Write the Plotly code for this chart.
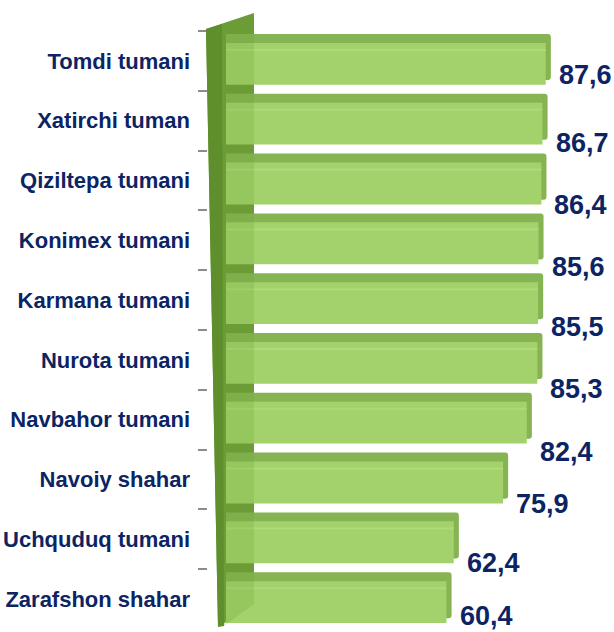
import plotly.graph_objects as go

W, H = 614, 632

categories = ["Tomdi tumani", "Xatirchi tuman", "Qiziltepa tumani", "Konimex tumani",
              "Karmana tumani", "Nurota tumani", "Navbahor tumani", "Navoiy shahar",
              "Uchquduq tumani", "Zarafshon shahar"]
values = [87.6, 86.7, 86.4, 85.6, 85.5, 85.3, 82.4, 75.9, 62.4, 60.4]
value_labels = ["87,6", "86,7", "86,4", "85,6", "85,5", "85,3", "82,4", "75,9", "62,4", "60,4"]

# vertical pixel offsets of the value labels (3D perspective placement)
label_yshift = [-14, -22, -24, -27, -27, -29, -32, -24, -24, -17]

DEPTH = 1.4  # 3D depth of bars in axis units
NAVY = "#0c2463"
FONT = "Liberation Sans, Arial, sans-serif"

def px(x):
    return x / W

def py(y):
    return 1 - y / H

fig = go.Figure()

# back/top face (darker, slightly longer)
fig.add_trace(go.Bar(
    x=[v + DEPTH for v in values], y=categories, orientation="h",
    width=0.77, offset=-0.45,
    marker=dict(color="#86b452", line=dict(width=0), cornerradius=3),
    hoverinfo="skip", showlegend=False,
))
# front face
fig.add_trace(go.Bar(
    x=values, y=categories, orientation="h",
    width=0.70, offset=-0.30,
    marker=dict(color="#a3d26c", line=dict(width=0)),
    showlegend=False,
))
# subtle highlight along the upper part of the front face
fig.add_trace(go.Bar(
    x=values, y=categories, orientation="h",
    width=0.035, offset=-0.20,
    marker=dict(color="rgba(185,225,135,0.5)", line=dict(width=0)),
    hoverinfo="skip", showlegend=False,
))

annotations = []
for c, v, t, ys in zip(categories, values, value_labels, label_yshift):
    annotations.append(dict(
        x=v + DEPTH, y=c, xref="x", yref="y", text=t, showarrow=False,
        xanchor="left", yanchor="middle", xshift=6, yshift=ys,
        font=dict(family=FONT, size=27, color=NAVY, weight="bold"),
    ))

def path(points):
    return "M " + " L ".join(f"{px(a):.5f},{py(b):.5f}" for a, b in points) + " Z"

shapes = [
    # wall back (visible in the gaps between bars)
    dict(type="path", xref="paper", yref="paper", layer="below",
         path=path([(206, 29), (254, 13), (254, 604), (218, 627)]),
         fillcolor="#6e9c38", line=dict(width=0)),
    # translucent wall front
    dict(type="path", xref="paper", yref="paper", layer="above",
         path=path([(222, 24), (254, 13), (254, 604), (224, 626)]),
         fillcolor="rgba(105,160,45,0.22)", line=dict(width=0)),
    # dark side strip of the wall
    dict(type="path", xref="paper", yref="paper", layer="above",
         path=path([(206, 29), (222, 24), (224, 626), (218, 627)]),
         fillcolor="#5f8f2c", line=dict(width=0)),
]

fig.update_layout(
    width=W, height=H,
    margin=dict(l=0, r=0, t=0, b=0),
    paper_bgcolor="white", plot_bgcolor="rgba(0,0,0,0)",
    barmode="overlay",
    xaxis=dict(domain=[226 / W, 1], range=[0, (W - 226) / 3.65],
               visible=False, showgrid=False, zeroline=False, fixedrange=True),
    yaxis=dict(domain=[1 - 629 / H, 1 - 31 / H], range=[9.5, -0.5],
               type="category", categoryorder="array", categoryarray=categories,
               anchor="free", position=207 / W,
               ticks="outside", ticklen=9, tickcolor="#8c8c8c", tickwidth=1.5,
               tickson="boundaries", ticklabelstandoff=17,
               tickfont=dict(family=FONT, size=22, color=NAVY, weight="bold"),
               showgrid=False, zeroline=False, showline=False, fixedrange=True),
    annotations=annotations,
    shapes=shapes,
    font=dict(family=FONT),
)

fig.write_html("out.html", config={"displayModeBar": False},
               post_script="document.body.style.margin='0';")
